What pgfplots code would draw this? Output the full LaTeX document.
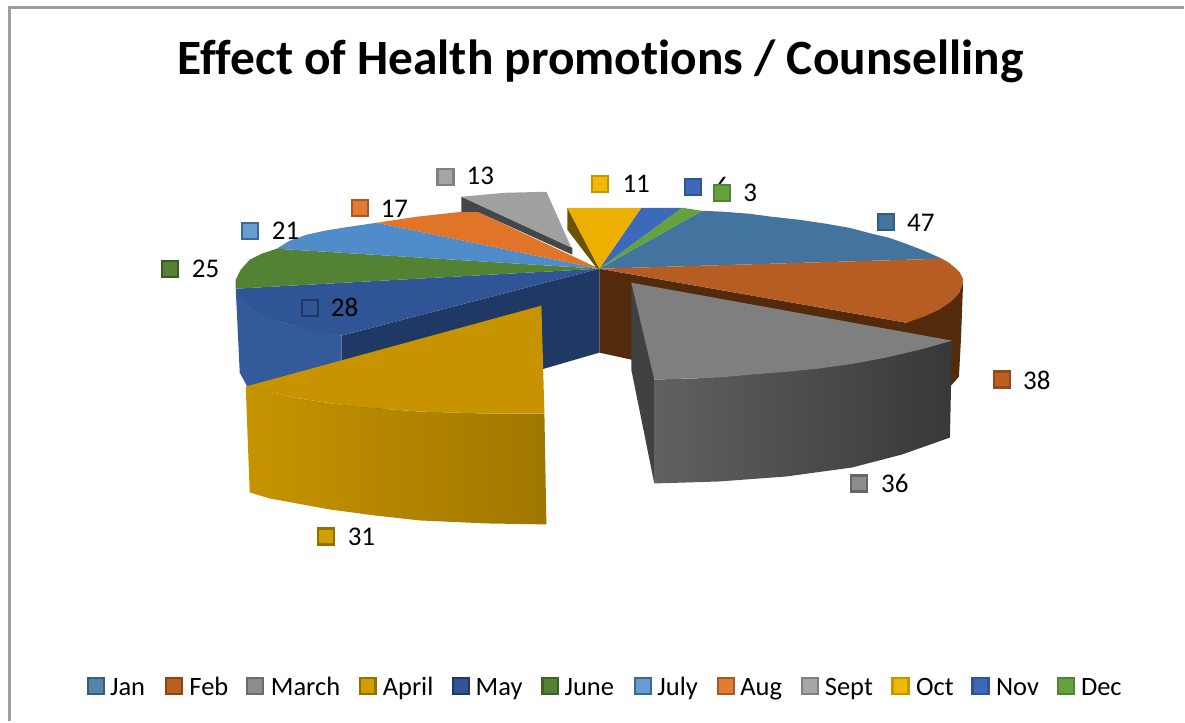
\documentclass[border=0pt]{standalone}
\usepackage{fontspec}
\setmainfont[Ligatures=NoCommon]{Carlito}
\usepackage{pgfplots}
\pgfplotsset{compat=1.18}

\definecolor{janT}{HTML}{43749F}
\definecolor{febT}{HTML}{B55D22}
\definecolor{febD}{HTML}{532A0C}
\definecolor{marT}{HTML}{7F7F7F}
\definecolor{marD}{HTML}{3F4142}
\definecolor{aprT}{HTML}{C79400}
\definecolor{mayT}{HTML}{2F5597}
\definecolor{mayW}{HTML}{335A9A}
\definecolor{mayD}{HTML}{1F3864}
\definecolor{junT}{HTML}{548235}
\definecolor{julT}{HTML}{4F8CC9}
\definecolor{augT}{HTML}{E0752A}
\definecolor{sepT}{HTML}{A0A0A0}
\definecolor{sepD}{HTML}{43474A}
\definecolor{octT}{HTML}{EEB000}
\definecolor{octD}{HTML}{6B5400}
\definecolor{novT}{HTML}{3D69BD}
\definecolor{decT}{HTML}{64A23E}

% marker with a darker rim: x, y, rim, fill
\newcommand{\swatch}[4]{\addplot[only marks, mark=square*, mark size=8pt,
  mark options={draw=#3, fill=#4, line width=2.2pt}] coordinates {(#1,#2)};}

\begin{document}
\begin{tikzpicture}
\begin{axis}[
  width=1185pt, height=722pt, scale only axis,
  xmin=0, xmax=1185, ymin=0, ymax=722, y dir=reverse,
  hide axis, clip=false,
]
% keeps the whole axis box in the page
\addplot[draw=none] coordinates {(0,0)(1185,722)};
% frame
\addplot[draw=black!38, line width=2.6pt] coordinates {(9.5,722)(9.5,7.5)(1185,7.5)};

% cut faces and walls of the main pie
\addplot[fill=febD, draw=none] coordinates {(600,269)(907,323)(940,310)(961,292)(963,277)(964,287)(962,340)(960,377)(953,385)(907,420)(632,360)(600,353)};
\addplot[fill=mayD, draw=none] coordinates {(600,269)(342,336)(342,420)(545,369)(600,353)};
\addplot[fill=mayW, draw=none] coordinates {(236,289)(250,307)(283,323)(342,336)(342,372)(260,396)(247,386)(240,373)};

% top faces
\addplot[fill=janT, draw=none] coordinates {(600,269)(703,211)(725,212)(750,214)(773,217)(800,220)(827,224)(850,228)(873,234)(890,238)(907,244)(925,251)(943,259)};
\addplot[fill=febT, draw=none] coordinates {(600,269)(943,259)(950,263)(956,268)(961,273)(964,279)(963,287)(959,295)(952,302)(940,310)(925,317)(907,323)};
\addplot[fill=mayT, draw=none] coordinates {(600,269)(236,289)(242,299)(250,307)(265,316)(283,323)(312,330)(342,336)};
\addplot[fill=junT, draw=none] coordinates {(600,269)(236,289)(236,280)(241,270)(250,260)(262,254)(277,249)};
\addplot[fill=julT, draw=none] coordinates {(600,269)(277,249)(290,241)(307,235)(325,231)(343,228)(377,223)};
\addplot[fill=augT, draw=none] coordinates {(600,269)(377,223)(417,217)(462,212)(478,212)};
\addplot[fill=octD, draw=none] coordinates {(568,208)(568,230)(597,268)(600,269)};
\addplot[fill=novT, draw=none] coordinates {(600,269)(642,208)(683,208)};
\addplot[fill=decT, draw=none] coordinates {(600,269)(683,208)(703,211)};
\addplot[fill=octT, draw=none] coordinates {(600,269)(568,208)(642,208)};

% Sept slice, pulled out
\addplot[fill=sepD, draw=none] coordinates {(462,197)(462,212)(478,212)(573,255)(573,248)};
\addplot[fill=sepT, draw=none] coordinates {(462,197)(505,193)(547,192)(572,248)};

% March slice, pulled out
\addplot[fill=marD, draw=none] coordinates {(632,283)(655,378)(655,484)(632,370)};
\addplot[draw=none, shade, left color=black!62, right color=black!78] coordinates {(655,380)(720,378)(753,375)(790,372)(820,369)(855,364)(887,358)(925,349)(953,341)(951,438)(903,455)(853,468)(787,477)(720,482)(655,484)};
\addplot[fill=marT, draw=none] coordinates {(632,283)(953,341)(925,349)(887,358)(855,364)(820,369)(790,372)(753,375)(720,378)(655,380)};

% April slice, pulled out
\addplot[draw=none, shade, left color=aprT, right color=aprT!80!black] coordinates {(246,387)(300,399)(353,407)(420,412)(487,414)(545,414)(547,525)(487,524)(420,521)(375,516)(330,510)(270,499)(250,493)};
\addplot[fill=aprT, draw=none] coordinates {(542,306)(246,387)(300,399)(353,407)(420,412)(487,414)(545,414)};

% title
\node[font=\fontsize{49.4}{56}\selectfont\bfseries, text=black] at (axis cs:601,61.5) {Effect of Health promotions / Counselling};

% data labels
\begin{scope}[every node/.style={anchor=base west, inner sep=0pt, font=\fontsize{27}{30}\selectfont, text=black}]
\swatch{887}{222}{janT!80!black}{janT}
\node at (axis cs:908,232) {47};
\swatch{1003}{380}{febT!80!black}{febT!90!orange}
\node at (axis cs:1024,390) {38};
\swatch{860}{484}{black!60}{black!45}
\node at (axis cs:882,493) {36};
\swatch{326}{537}{aprT!75!black}{aprT!90!yellow}
\node at (axis cs:348,546) {31};
\swatch{310}{308}{mayD}{mayT}
\node at (axis cs:331,317) {28};
\swatch{170}{269}{junT!70!black}{junT}
\node at (axis cs:192,278) {25};
\swatch{250}{231}{julT!75!black}{julT!85!white}
\node at (axis cs:272,240) {21};
\swatch{360}{208}{augT!75!black}{augT!95!white}
\node at (axis cs:381,218) {17};
\swatch{446}{177}{black!50}{black!35}
\node at (axis cs:467,185) {13};
\node at (axis cs:716,196) {6};
\swatch{601}{184}{aprT}{octT!90!yellow}
\node at (axis cs:623,193) {11};
\swatch{694}{187}{mayT}{novT}
\swatch{723}{193}{junT}{decT}
\node at (axis cs:744,202) {3};
\end{scope}

% legend
\begin{scope}[every node/.style={anchor=base west, inner sep=0pt, font=\fontsize{26.5}{30}\selectfont, text=black}]
\swatch{96}{687}{janT!80!black}{janT!90!white}
\node at (axis cs:110,696) {Jan};
\swatch{174}{687}{febT!75!black}{febT!90!orange}
\node at (axis cs:189.5,696) {Feb};
\swatch{255.6}{687}{black!58}{black!45}
\node at (axis cs:271,696) {March};
\swatch{368}{687}{aprT!75!black}{aprT!90!yellow}
\node at (axis cs:383,696) {April};
\swatch{461.5}{687}{mayD}{mayT}
\node at (axis cs:476,696) {May};
\swatch{551}{687}{junT!75!black}{junT}
\node at (axis cs:565,696) {June};
\swatch{644}{687}{julT!75!black}{julT!85!white}
\node at (axis cs:658,696) {July};
\swatch{727}{687}{augT!75!black}{augT!95!white}
\node at (axis cs:741,696) {Aug};
\swatch{811}{687}{black!50}{black!35}
\node at (axis cs:825.6,696) {Sept};
\swatch{901.5}{687}{aprT}{octT!90!yellow}
\node at (axis cs:917,696) {Oct};
\swatch{981.5}{687}{mayT}{novT}
\node at (axis cs:997,696) {Nov};
\swatch{1067}{687}{junT}{decT}
\node at (axis cs:1082,696) {Dec};
\end{scope}
\end{axis}
\end{tikzpicture}
\end{document}
